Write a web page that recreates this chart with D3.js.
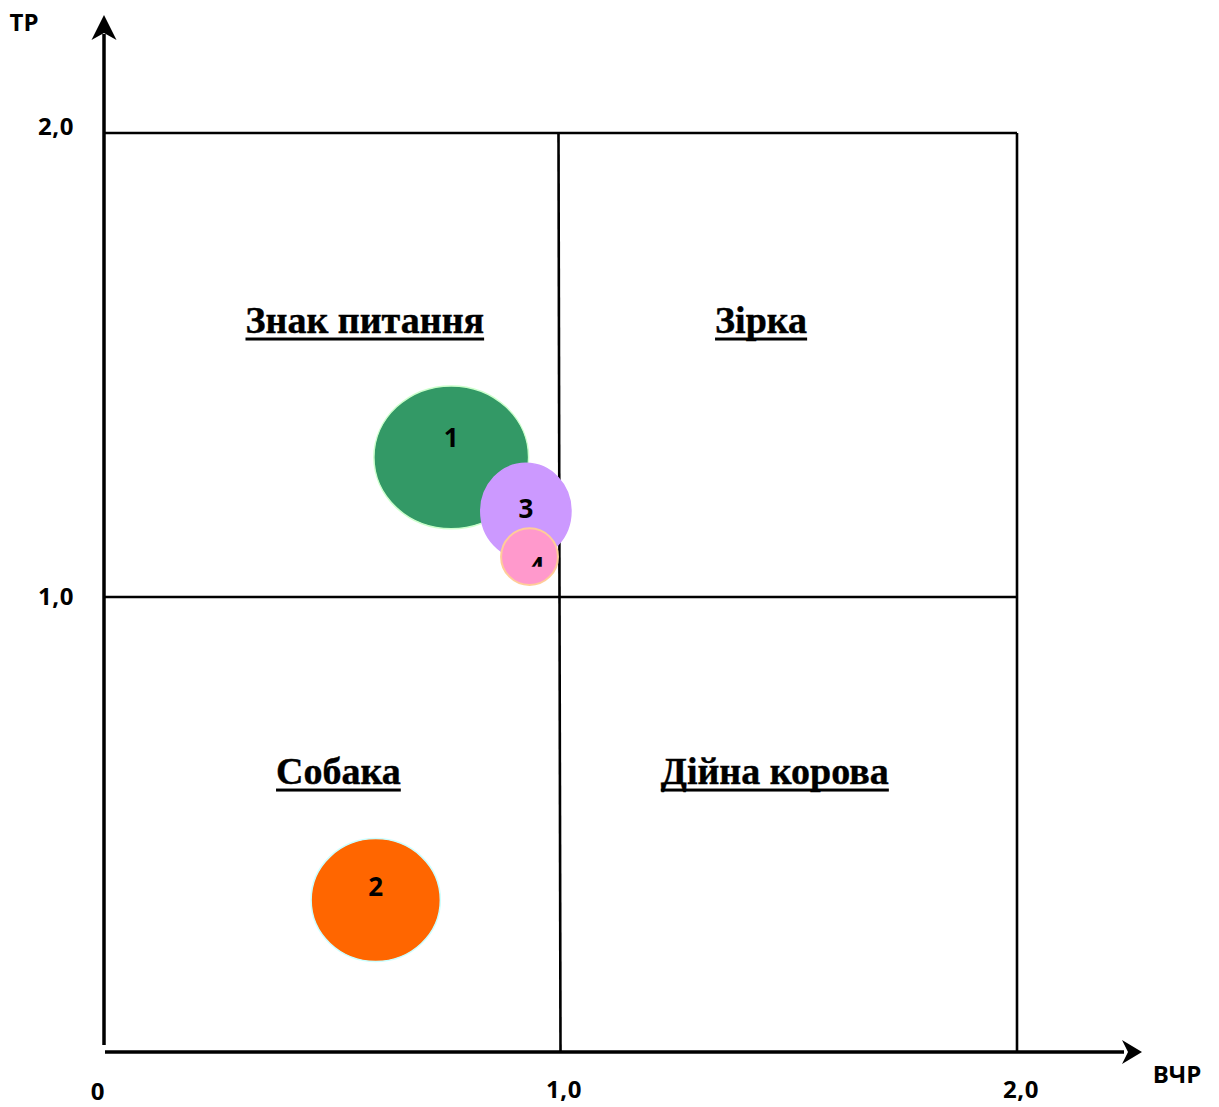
<!DOCTYPE html>
<html>
<head>
<meta charset="utf-8">
<script src="https://cdn.jsdelivr.net/npm/d3@7"></script>
<style>
  html, body { margin: 0; padding: 0; background: #fff; }
  svg { display: block; }
</style>
</head>
<body>
<svg id="chart" width="1219" height="1107"></svg>
<script>
// ---- data ----
const bubbleIds    = ["1", "2", "3", "4"];
const bubbleVCHR   = [0.761, 0.595, 0.925, 0.933];   // x: ВЧР
const bubbleTR     = [1.301, 0.334, 1.185, 1.087];   // y: ТР
const bubbleHalfW  = [0.170, 0.142, 0.099, 0.0625];  // half-width in ВЧР units
const bubbleHalfH  = [0.154, 0.135, 0.103, 0.061];   // half-height in ТР units
const bubbleFill   = ["#339966", "#FF6600", "#CC99FF", "#FF99CC"];
const bubbleStroke = ["#CCFFCC", "#CCFFFF", "#CC99FF", "#FFCC99"];

const quadrantNames = ["Знак питання", "Зірка", "Собака", "Дійна корова"];
const quadrantX     = [0.571, 1.44, 0.513, 1.47];
const quadrantY     = [1.57, 1.57, 0.59, 0.59];

const xTickValues = [0, 1, 2];
const xTickLabels = ["0", "1,0", "2,0"];
const yTickValues = [1, 2];
const yTickLabels = ["1,0", "2,0"];
const xAxisTitle = "ВЧР";
const yAxisTitle = "ТР";

// ---- layout ----
const svg = d3.select("#chart");
const x = d3.scaleLinear().domain([0, 1, 2]).range([105, 560, 1017]);
const y = d3.scaleLinear().domain([0, 1, 2]).range([1052, 597, 133]);

const sansBold = "'Open Sans', 'Liberation Sans', sans-serif";
const serifBold = "'Liberation Serif', 'Times New Roman', serif";

// grid (quadrant frame)
const grid = svg.append("g").attr("stroke", "#000").attr("stroke-width", 2.6).attr("fill", "none");
grid.append("line").attr("x1", x(0)).attr("x2", x(2)).attr("y1", y(2)).attr("y2", y(2));
grid.append("line").attr("x1", x(0)).attr("x2", x(2)).attr("y1", y(1)).attr("y2", y(1));
grid.append("line").attr("x1", x(2)).attr("x2", x(2)).attr("y1", y(2)).attr("y2", y(0));
grid.append("line").attr("x1", x(1) - 1.5).attr("x2", x(1) + 0.5).attr("y1", y(2)).attr("y2", y(0));

// axes with arrows
const axes = svg.append("g");
axes.append("line").attr("x1", x(0) - 1).attr("x2", x(0) - 1).attr("y1", y(0) - 7).attr("y2", 34)
  .attr("stroke", "#000").attr("stroke-width", 3.5);
axes.append("path")
  .attr("d", `M${x(0) - 1},15 L${x(0) - 13.5},40 L${x(0) - 1},33 L${x(0) + 11.5},40 Z`)
  .attr("fill", "#000");
axes.append("line").attr("x1", x(0)).attr("x2", 1124).attr("y1", y(0)).attr("y2", y(0))
  .attr("stroke", "#000").attr("stroke-width", 3.5);
axes.append("path")
  .attr("d", `M1142,${y(0)} L1122,${y(0) - 12} L1128,${y(0)} L1122,${y(0) + 12} Z`)
  .attr("fill", "#000");

// tick labels
svg.append("g").selectAll("text").data(xTickValues).join("text")
  .attr("x", (d, i) => i === 0 ? x(d) - 7 : x(d) + 4)
  .attr("y", (d, i) => i === 0 ? 1100 : 1098)
  .attr("text-anchor", "middle")
  .attr("font-family", sansBold).attr("font-weight", 700).attr("font-size", 24)
  .attr("letter-spacing", 0.6)
  .text((d, i) => xTickLabels[i]);

svg.append("g").selectAll("text").data(yTickValues).join("text")
  .attr("x", 56)
  .attr("y", d => y(d) + (d === 2 ? 2 : 8))
  .attr("text-anchor", "middle")
  .attr("font-family", sansBold).attr("font-weight", 700).attr("font-size", 24)
  .attr("letter-spacing", 0.6)
  .text((d, i) => yTickLabels[i]);

svg.append("text").attr("x", 24).attr("y", 31).attr("text-anchor", "middle")
  .attr("font-family", sansBold).attr("font-weight", 700).attr("font-size", 24)
  .text(yAxisTitle);
svg.append("text").attr("x", 1177).attr("y", 1083).attr("text-anchor", "middle")
  .attr("font-family", sansBold).attr("font-weight", 700).attr("font-size", 24)
  .text(xAxisTitle);

// quadrant labels (underlined)
const qg = svg.append("g");
quadrantNames.forEach((name, i) => {
  const t = qg.append("text")
    .attr("x", x(quadrantX[i])).attr("y", y(quadrantY[i]))
    .attr("text-anchor", "middle")
    .attr("font-family", serifBold).attr("font-weight", 700).attr("font-size", 38)
    .attr("stroke", "#000").attr("stroke-width", 0.4)
    .text(name);
  const w = t.node().getComputedTextLength();
  qg.append("rect")
    .attr("x", x(quadrantX[i]) - w / 2).attr("width", w)
    .attr("y", y(quadrantY[i]) + 5).attr("height", 3)
    .attr("fill", "#000");
});

// bubbles
const bubbles = bubbleIds.map((id, i) => ({
  id, vx: bubbleVCHR[i], vy: bubbleTR[i], hw: bubbleHalfW[i], hh: bubbleHalfH[i],
  fill: bubbleFill[i], stroke: bubbleStroke[i]
}));
const bg = svg.append("g");
bg.selectAll("ellipse").data(bubbles).join("ellipse")
  .attr("cx", d => x(d.vx))
  .attr("cy", d => y(d.vy))
  .attr("rx", d => x(d.vx + d.hw) - x(d.vx))
  .attr("ry", d => y(d.vy - d.hh) - y(d.vy))
  .attr("fill", d => d.fill)
  .attr("stroke", d => d.stroke)
  .attr("stroke-width", (d, i) => i === 3 ? 2 : 1.5);

// label offsets in px (layout, not data)
const labelDx = [0, 0, 0, 7.5];
const labelDy = [-20, -13, -2.5, 10];
const defs = svg.append("defs");
defs.append("clipPath").attr("id", "clip4").append("rect")
  .attr("x", x(bubbles[3].vx) - 20).attr("y", y(bubbles[3].vy) - 20)
  .attr("width", 40).attr("height", 30);

bg.selectAll("text").data(bubbles).join("text")
  .attr("x", (d, i) => x(d.vx) + labelDx[i])
  .attr("y", (d, i) => y(d.vy) + labelDy[i])
  .attr("dy", "0.36em")
  .attr("text-anchor", "middle")
  .attr("font-family", sansBold).attr("font-weight", 700).attr("font-size", 26)
  .attr("clip-path", (d, i) => i === 3 ? "url(#clip4)" : null)
  .text(d => d.id);
</script>
</body>
</html>
